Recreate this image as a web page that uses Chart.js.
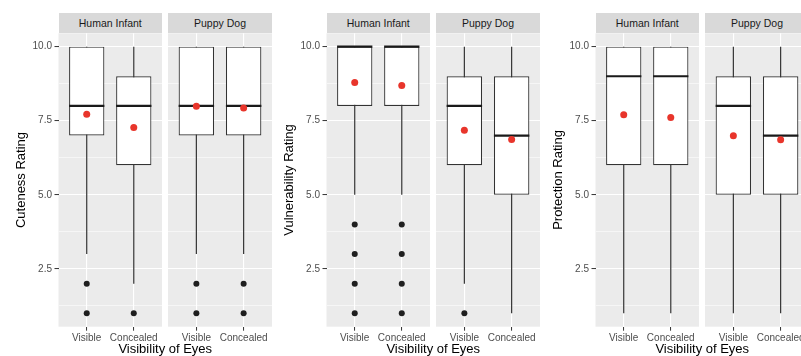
<!DOCTYPE html>
<html>
<head>
<meta charset="utf-8">
<script src="https://cdn.jsdelivr.net/npm/chart.js@4.4.1/dist/chart.umd.min.js"></script>
<style>
  body { margin: 0; background: #fff; }
  #wrap { position: relative; width: 801px; height: 356px; overflow: hidden; font-family: "Liberation Sans", Arial, sans-serif; }
  #wrap canvas { position: absolute; top: 0; }
  .strip { position: absolute; top: 13.3px; height: 20px; line-height: 20px; background: #d9d9d9; color: #1a1a1a; font-size: 10.5px; text-align: center; }
  .xtitle { position: absolute; top: 341px; font-size: 13px; line-height: 15px; text-align: center; color: #000; }
</style>
</head>
<body>
<div id="wrap"></div>
<script>
// facets, x groups and y breaks
const facets = ["Human Infant", "Puppy Dog"];
const groups = ["Visible", "Concealed"];
const yBreaks = [2.5, 5, 7.5, 10];
const yGrid = [1.25, 2.5, 3.75, 5, 6.25, 7.5, 8.75, 10];
const yLimits = [0.55, 10.45];

// every array below: HI-Visible, HI-Concealed, PD-Visible, PD-Concealed
const cuteLow = [3, 2, 3, 3];
const cuteQ1 = [7, 6, 7, 7];
const cuteMed = [8, 8, 8, 8];
const cuteQ3 = [10, 9, 10, 10];
const cuteHigh = [10, 10, 10, 10];
const cuteMean = [7.72, 7.27, 7.99, 7.93];
const cuteOut = [[2, 1], [1], [2, 1], [2, 1]];

const vulnLow = [5, 5, 2, 1];
const vulnQ1 = [8, 8, 6, 5];
const vulnMed = [10, 10, 8, 7];
const vulnQ3 = [10, 10, 9, 9];
const vulnHigh = [10, 10, 10, 10];
const vulnMean = [8.79, 8.69, 7.18, 6.87];
const vulnOut = [[4, 3, 2, 1], [4, 3, 2, 1], [1], []];

const protLow = [1, 1, 1, 1];
const protQ1 = [6, 6, 5, 5];
const protMed = [9, 9, 8, 7];
const protQ3 = [10, 10, 9, 9];
const protHigh = [10, 10, 10, 10];
const protMean = [7.70, 7.61, 6.99, 6.86];
const protOut = [[], [], [], []];

const panels = [
  { title: "Cuteness Rating", low: cuteLow, q1: cuteQ1, med: cuteMed, q3: cuteQ3, high: cuteHigh, mean: cuteMean, out: cuteOut },
  { title: "Vulnerability Rating", low: vulnLow, q1: vulnQ1, med: vulnMed, q3: vulnQ3, high: vulnHigh, mean: vulnMean, out: vulnOut },
  { title: "Protection Rating", low: protLow, q1: protQ1, med: protMed, q3: protQ3, high: protHigh, mean: protMean, out: protOut },
];

const panelX = [0, 268, 537];
const axisW = 58.5;
const wrap = document.getElementById("wrap");

// grey ggplot panel behind the grid
const panelBg = {
  id: "panelBg",
  beforeDraw(chart) {
    const { ctx, chartArea: a } = chart;
    ctx.save();
    ctx.fillStyle = "#ebebeb";
    ctx.fillRect(a.left, a.top, a.right - a.left, a.bottom - a.top);
    ctx.restore();
  },
};

function addDiv(cls, text, left, width) {
  const d = document.createElement("div");
  d.className = cls;
  d.textContent = text;
  d.style.left = left + "px";
  d.style.width = width + "px";
  wrap.appendChild(d);
}

function facetChart(p, f, left, width, withAxis) {
  const cv = document.createElement("canvas");
  cv.width = width;
  cv.height = 356;
  cv.style.left = left + "px";
  wrap.appendChild(cv);

  const xs = [1, 2];
  const idx = [f * 2, f * 2 + 1];
  const boxes = idx.map((k, j) => ({ x: xs[j], y: [p.q1[k], p.q3[k]] }));
  const whiskers = [];
  const medians = [];
  idx.forEach((k, j) => {
    whiskers.push({ x: xs[j], y: p.low[k] }, { x: xs[j], y: p.high[k] }, { x: xs[j] + 0.5, y: null });
    medians.push({ x: xs[j] - 0.375, y: p.med[k] }, { x: xs[j] + 0.375, y: p.med[k] }, { x: xs[j] + 0.5, y: null });
  });
  const means = idx.map((k, j) => ({ x: xs[j], y: p.mean[k] }));
  const outliers = idx.flatMap((k, j) => p.out[k].map((v) => ({ x: xs[j], y: v })));

  const isMajor = (c) => c.tick && yBreaks.includes(c.tick.value);

  new Chart(cv, {
    type: "bar",
    data: {
      datasets: [
        { type: "line", data: whiskers, borderColor: "#333", borderWidth: 1.2, pointRadius: 0, spanGaps: false, order: 3 },
        { type: "bar", data: boxes, backgroundColor: "#fff", borderColor: "#333", borderWidth: 1.2,
          borderSkipped: false, grouped: false, categoryPercentage: 0.75, barPercentage: 1, order: 2 },
        { type: "line", data: medians, borderColor: "#1a1a1a", borderWidth: 2.2, pointRadius: 0, spanGaps: false, order: 1 },
        { type: "line", data: outliers, showLine: false, pointRadius: 3, pointBorderWidth: 0, pointBackgroundColor: "#1f1f1f", order: 0 },
        { type: "line", data: means, showLine: false, pointRadius: 3.5, pointBorderWidth: 0, pointBackgroundColor: "#e8352b", order: 0 },
      ],
    },
    options: {
      responsive: false,
      animation: false,
      layout: { padding: { top: 33.3, bottom: 0, left: 0, right: 0 }, autoPadding: false },
      plugins: { legend: { display: false }, tooltip: { enabled: false } },
      scales: {
        x: {
          type: "linear", min: 0.4, max: 2.6, offset: false,
          afterBuildTicks: (s) => { s.ticks = xs.map((v) => ({ value: v })); },
          afterFit: (s) => { s.height = 29.3; },
          ticks: { callback: (v) => groups[v - 1], color: "#4d4d4d", font: { size: 10 }, padding: 1.5, maxRotation: 0, autoSkip: false },
          grid: { offset: false, color: "#fff", lineWidth: 1.1, tickColor: "#333", tickLength: 4, tickWidth: 1 },
          border: { display: false },
        },
        y: {
          type: "linear", min: yLimits[0], max: yLimits[1],
          afterBuildTicks: (s) => { s.ticks = yGrid.map((v) => ({ value: v })); },
          afterFit: (s) => { s.width = withAxis ? axisW : 0; },
          ticks: { display: withAxis, callback: (v) => (yBreaks.includes(v) ? v.toFixed(1) : ""), color: "#4d4d4d", font: { size: 10 }, padding: 2.5 },
          grid: {
            color: "#fff",
            lineWidth: (c) => (isMajor(c) ? 1.1 : 0.55),
            drawTicks: withAxis, tickLength: 4, tickWidth: 1,
            tickColor: (c) => (isMajor(c) ? "#333" : "rgba(0,0,0,0)"),
          },
          title: { display: withAxis, text: p.title, color: "#000", font: { size: 13 }, padding: { top: 14, bottom: 0 } },
          border: { display: false },
        },
      },
    },
    plugins: [panelBg],
  });
}

Chart.defaults.font.family = '"Liberation Sans", Arial, sans-serif';

panels.forEach((p, i) => {
  const x0 = panelX[i];
  facetChart(p, 0, x0, 162, true);
  facetChart(p, 1, x0 + 168, 104, false);
  addDiv("strip", facets[0], x0 + axisW, 103.5);
  addDiv("strip", facets[1], x0 + 168, 104);
  addDiv("xtitle", "Visibility of Eyes", x0 + axisW, 213.5);
});
</script>
</body>
</html>
